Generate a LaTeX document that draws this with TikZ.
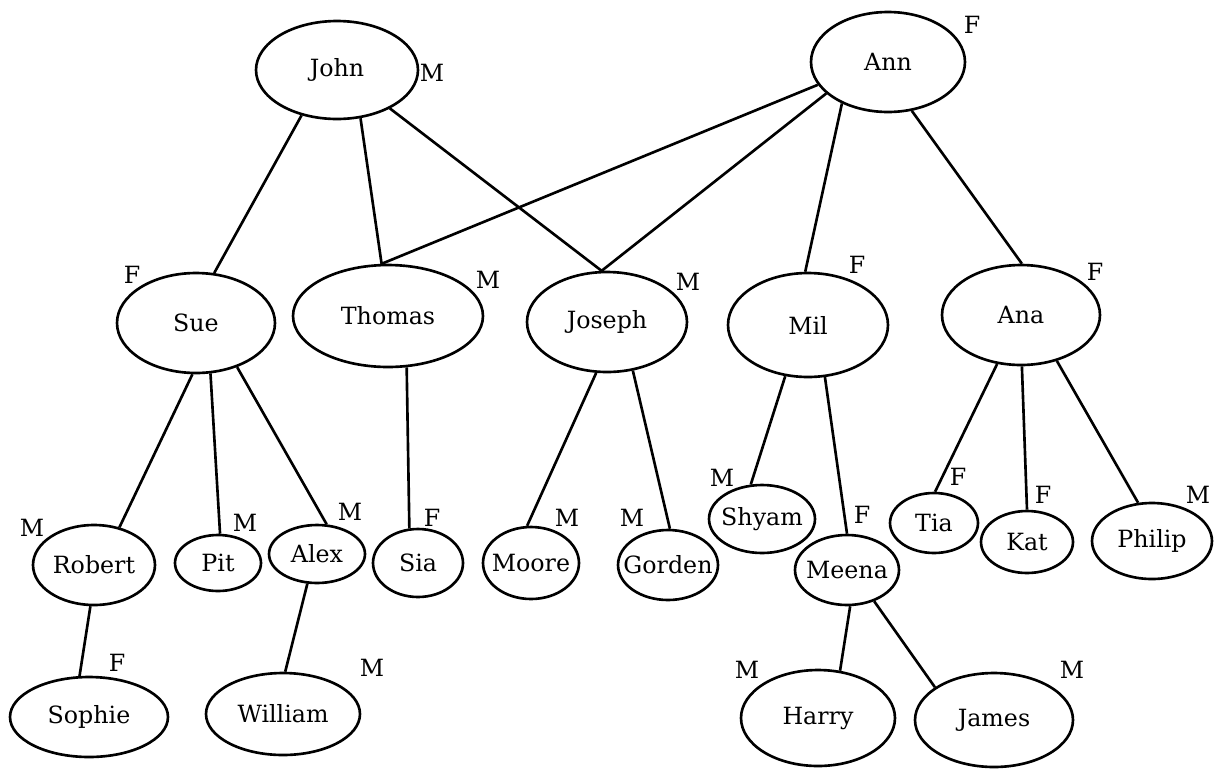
\documentclass[tikz,border=0pt]{standalone}
\usepackage{fontspec}
\setmainfont{DejaVu Serif}
\usepackage{tikz}
\usetikzlibrary{
    shapes.geometric,
    calc,
    positioning
}
\tikzset{person/.style 2 args={ellipse, draw=black, inner sep=0pt, minimum width=#1, minimum height=#2}}

\begin{document}
\begin{tikzpicture}[x=0.02cm, y=-0.02cm, line width=1.5pt, font=\fontsize{13.5}{15}\selectfont]
                        \useasboundingbox (0, 0) rectangle (1220, 768);
                        \node[person={3.24cm}{1.96cm}, label=center:John] (john) at (337, 70) {};
                        \node[person={3.08cm}{2.0cm}, label=center:Ann] (ann) at (888, 62) {};
                        \node[person={3.16cm}{2.0cm}, label=center:Sue] (sue) at (196, 323) {};
                        \node[person={3.8cm}{2.04cm}, label=center:Thomas] (thomas) at (388, 316) {};
                        \node[person={3.2cm}{2.0cm}, label=center:Joseph] (joseph) at (607, 322) {};
                        \node[person={3.2cm}{2.08cm}, label=center:Mil] (mil) at (808, 325) {};
                        \node[person={3.16cm}{2.0cm}, label=center:Ana] (ana) at (1021, 315) {};
                        \node[person={2.44cm}{1.6cm}, label=center:Robert] (robert) at (94, 565) {};
                        \node[person={1.72cm}{1.12cm}, label=center:Pit] (pit) at (218, 563) {};
                        \node[person={1.92cm}{1.16cm}, label=center:Alex] (alex) at (317, 554) {};
                        \node[person={1.8cm}{1.36cm}, label=center:Sia] (sia) at (418, 563) {};
                        \node[person={1.92cm}{1.44cm}, label=center:Moore] (moore) at (531, 563) {};
                        \node[person={2.0cm}{1.4cm}, label=center:Gorden] (gorden) at (668, 565) {};
                        \node[person={2.12cm}{1.36cm}, label=center:Shyam] (shyam) at (762, 519) {};
                        \node[person={2.08cm}{1.4cm}, label=center:Meena] (meena) at (847, 570) {};
                        \node[person={1.76cm}{1.2cm}, label=center:Tia] (tia) at (934, 523) {};
                        \node[person={1.84cm}{1.24cm}, label=center:Kat] (kat) at (1027, 542) {};
                        \node[person={2.4cm}{1.52cm}, label=center:Philip] (philip) at (1152, 541) {};
                        \node[person={3.16cm}{1.6cm}, label=center:Sophie] (sophie) at (89, 717) {};
                        \node[person={3.08cm}{1.64cm}, label=center:William] (william) at (283, 714) {};
                        \node[person={3.08cm}{1.92cm}, label=center:Harry] (harry) at (818, 718) {};
                        \node[person={3.16cm}{1.88cm}, label=center:James] (james) at (994, 720) {};
                        \draw
                        (john.232) -- (sue.70)
                        (john.296) -- (thomas.97)
                        (john.324) -- (joseph.96)
                        (ann.198) -- (thomas.97)
                        (ann.207) -- (joseph.96)
                        (ann.222) -- (mil.93)
                        (ann.296) -- (ana.89)
                        (sue.266) -- (robert.56)
                        (sue.286) -- (pit.86)
                        (sue.313) -- (alex.72)
                        (thomas.290) -- (sia.104)
                        (joseph.258) -- (moore.96)
                        (joseph.298) -- (gorden.87)
                        (mil.246) -- (shyam.108)
                        (mil.288) -- (meena.90)
                        (ana.244) -- (tia.88)
                        (ana.271) -- (kat.90)
                        (ana.308) -- (philip.110)
                        (robert.265) -- (sophie.103)
                        (alex.252) -- (william.87)
                        (meena.275) -- (harry.65)
                        (meena.311) -- (james.151);
                        \node at ($(john) + (95, 3)$) {M};
                        \node at ($(ann) + (84, -37)$) {F};
                        \node at ($(sue) + (-64, -48)$) {F};
                        \node at ($(thomas) + (100, -36)$) {M};
                        \node at ($(joseph) + (81, -40)$) {M};
                        \node at ($(mil) + (49, -60)$) {F};
                        \node at ($(ana) + (74, -43)$) {F};
                        \node at ($(robert) + (-62, -37)$) {M};
                        \node at ($(pit) + (27, -40)$) {M};
                        \node at ($(alex) + (33, -42)$) {M};
                        \node at ($(sia) + (14, -45)$) {F};
                        \node at ($(moore) + (36, -45)$) {M};
                        \node at ($(gorden) + (-36, -47)$) {M};
                        \node at ($(shyam) + (-40, -41)$) {M};
                        \node at ($(meena) + (15, -55)$) {F};
                        \node at ($(tia) + (24, -46)$) {F};
                        \node at ($(kat) + (16, -47)$) {F};
                        \node at ($(philip) + (46, -46)$) {M};
                        \node at ($(sophie) + (28, -54)$) {F};
                        \node at ($(william) + (89, -46)$) {M};
                        \node at ($(harry) + (-71, -48)$) {M};
                        \node at ($(james) + (78, -50)$) {M};
                    \end{tikzpicture}
\end{document}
